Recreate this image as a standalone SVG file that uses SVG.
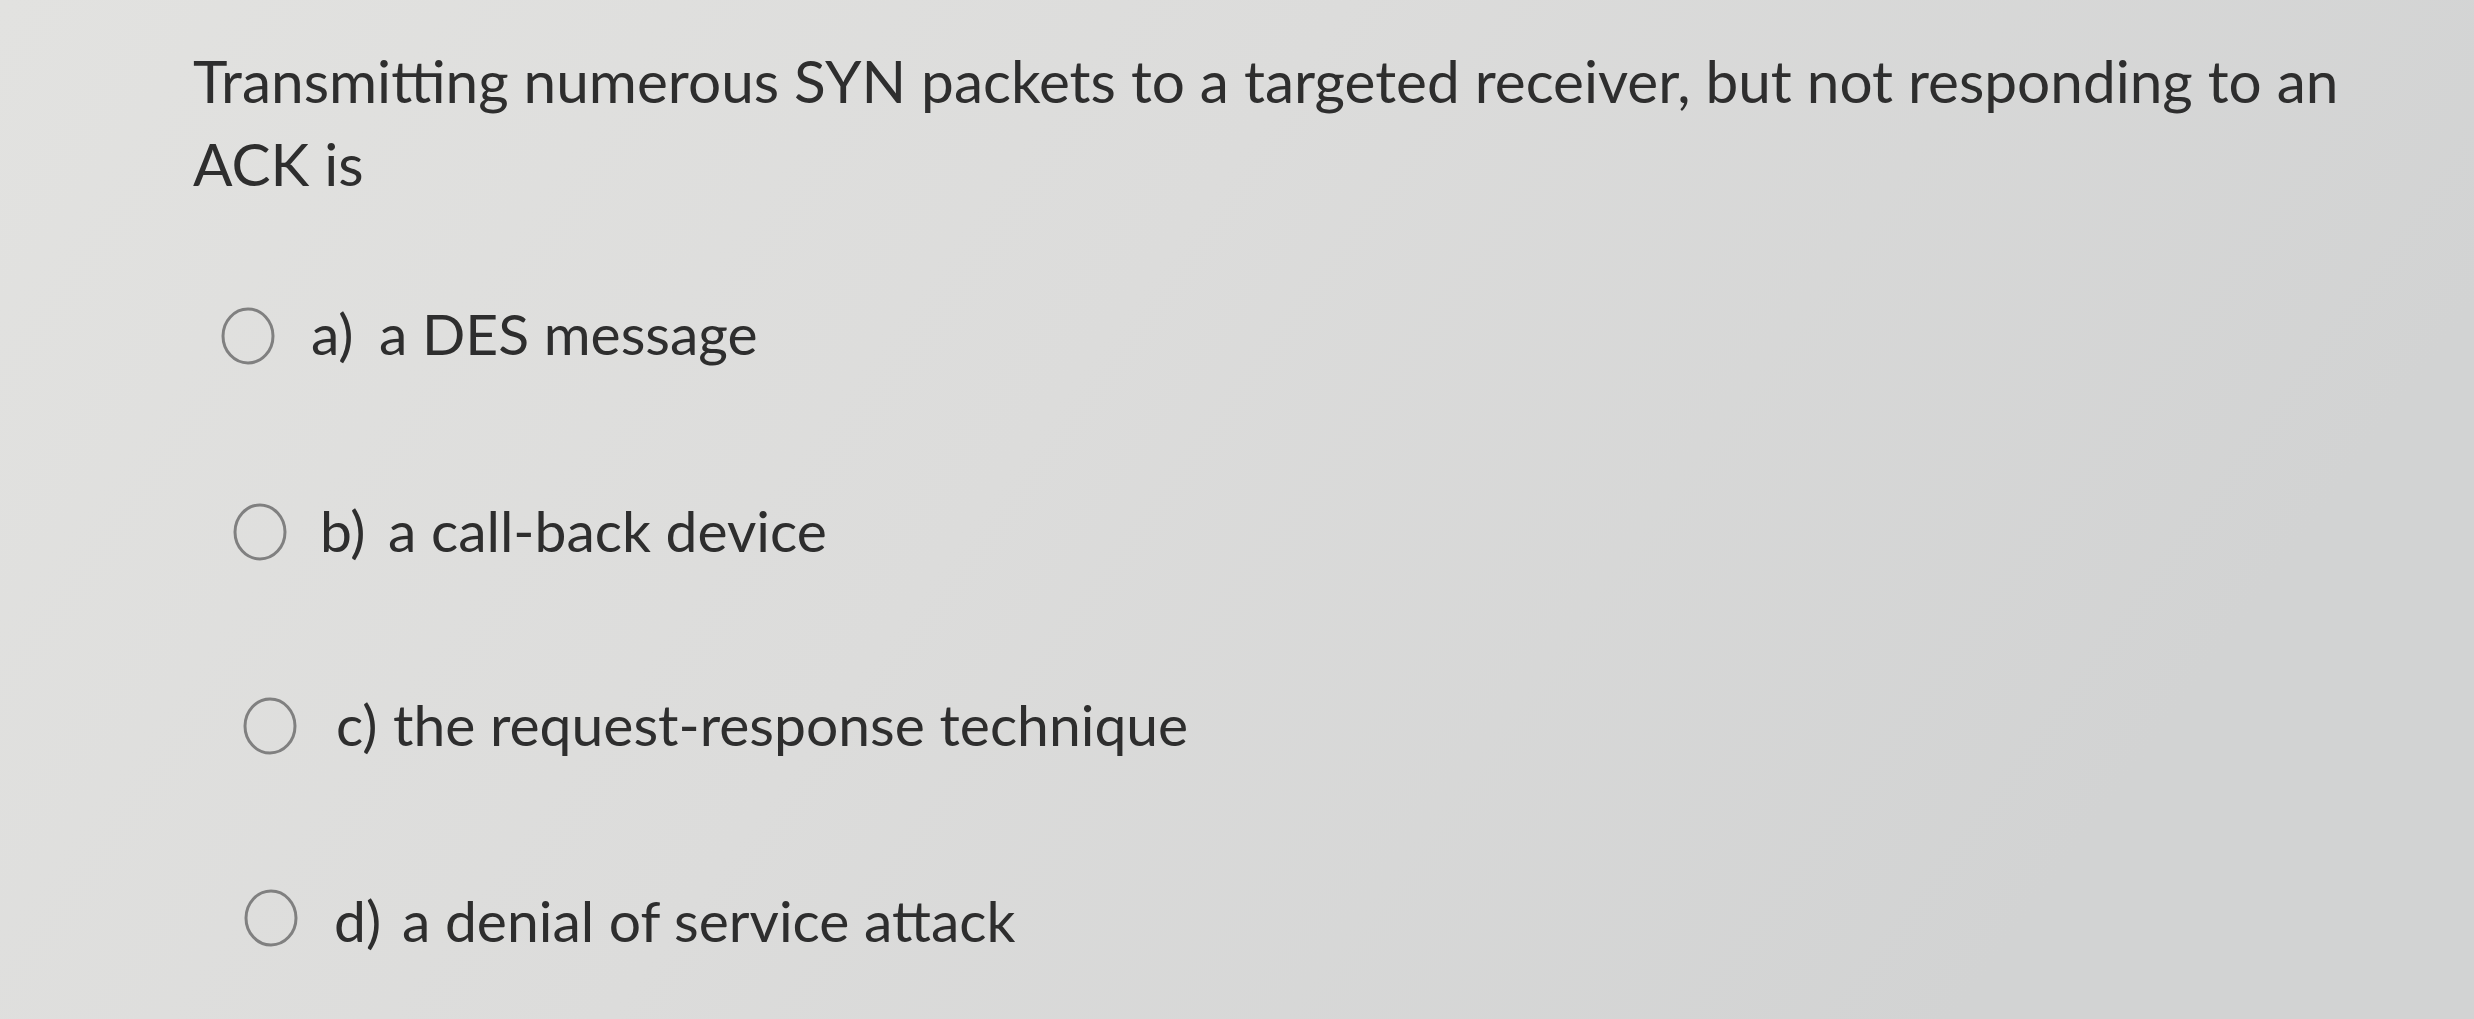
<svg xmlns="http://www.w3.org/2000/svg" width="2474" height="1019" viewBox="0 0 2474 1019">
<defs>
<linearGradient id="bg" x1="0" y1="0" x2="1" y2="0.3">
<stop offset="0" stop-color="#e2e2e0"/>
<stop offset="0.5" stop-color="#dcdcdb"/>
<stop offset="1" stop-color="#d2d3d3"/>
</linearGradient>
<style>
.t{font-family:Lato,"Liberation Sans",sans-serif;fill:#2e2e2e}
.q{font-size:58.5px}
.o{font-size:57px}
.r{fill:none;stroke:#808080;stroke-width:3}
</style>
</defs>
<rect width="2474" height="1019" fill="url(#bg)"/>
<text class="t q" x="193" y="103">Transmitting numerous SYN packets to a targeted receiver, but not responding to an</text>
<text class="t q" x="193" y="186">ACK is</text>
<g id="a"><ellipse class="r" cx="248" cy="336" rx="25" ry="27"/><text class="t o" x="311" y="355">a)</text><text class="t o" x="379" y="355">a DES message</text></g>
<g id="b"><ellipse class="r" cx="260" cy="532" rx="25" ry="27"/><text class="t o" x="320" y="552">b)</text><text class="t o" x="388" y="552">a call-back device</text></g>
<g id="c"><ellipse class="r" cx="270" cy="726" rx="25" ry="27"/><text class="t o" x="336" y="746">c)</text><text class="t o" x="393" y="746">the request-response technique</text></g>
<g id="d"><ellipse class="r" cx="271" cy="918" rx="25" ry="27"/><text class="t o" x="334" y="942">d)</text><text class="t o" x="402" y="942">a denial of service attack</text></g>
</svg>
